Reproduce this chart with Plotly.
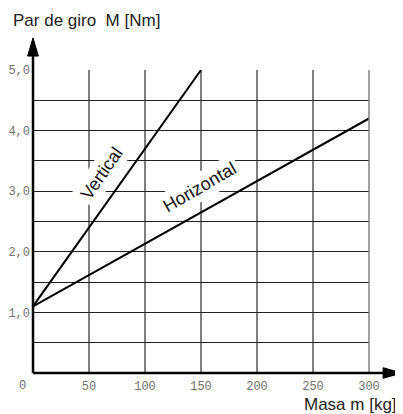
import plotly.graph_objects as go

# Data
mass_vertical = [0, 150]
torque_vertical = [1.1, 5.0]
mass_horizontal = [0, 300]
torque_horizontal = [1.1, 4.2]

x_ticks = [0, 50, 100, 150, 200, 250, 300]
x_ticktext = ["", "50", "100", "150", "200", "250", "300"]
y_ticks = [0, 0.5, 1.0, 1.5, 2.0, 2.5, 3.0, 3.5, 4.0, 4.5, 5.0]
y_ticktext = ["", "", "1,0", "", "2,0", "", "3,0", "", "4,0", "", "5,0"]

fig = go.Figure()

fig.add_trace(go.Scatter(x=mass_vertical, y=torque_vertical, mode="lines",
                         line=dict(color="black", width=2), showlegend=False,
                         cliponaxis=False))
fig.add_trace(go.Scatter(x=mass_horizontal, y=torque_horizontal, mode="lines",
                         line=dict(color="black", width=2), showlegend=False,
                         cliponaxis=False))

mono = dict(family="Liberation Mono, DejaVu Sans Mono, monospace", size=12, color="#707070")
sans = "Liberation Sans, Arial, sans-serif"

fig.update_xaxes(range=[0, 300], tickvals=x_ticks, ticktext=x_ticktext,
                 showgrid=True, gridcolor="#808080", gridwidth=1.5,
                 zeroline=False, showline=False, ticks="", tickfont=mono,
                 ticklabelstandoff=4, automargin=False)
fig.update_yaxes(range=[0, 5], tickvals=y_ticks, ticktext=y_ticktext,
                 showgrid=True, gridcolor="#222", gridwidth=1,
                 zeroline=False, showline=False, ticks="", tickfont=mono,
                 ticklabelstandoff=2, automargin=False)

shapes = [
    dict(type="line", xref="paper", yref="paper", x0=1, x1=1, y0=0, y1=1,
         line=dict(color="#808080", width=1.5)),
    dict(type="line", xref="paper", yref="paper", x0=0, x1=0, y0=0, y1=1.05,
         line=dict(color="black", width=2.5)),
    dict(type="line", xref="paper", yref="paper", x0=0, x1=1.045, y0=0, y1=0,
         line=dict(color="black", width=2.5)),
    dict(type="path", xref="paper", yref="paper",
         path="M -0.016,1.046 L 0,1.106 L 0.016,1.046 Z",
         fillcolor="black", line=dict(color="black", width=1)),
    dict(type="path", xref="paper", yref="paper",
         path="M 1.042,0.0175 L 1.098,0 L 1.042,-0.0175 Z",
         fillcolor="black", line=dict(color="black", width=1)),
]

annotations = [
    dict(text="Par de giro&nbsp; M [Nm]", xref="paper", yref="paper",
         x=-0.065, y=1.162, xanchor="left", yanchor="middle", showarrow=False,
         font=dict(family=sans, size=17, color="#222")),
    dict(text="Masa m [kg]", xref="paper", yref="paper",
         x=1.089, y=-0.103, xanchor="right", yanchor="middle", showarrow=False,
         font=dict(family=sans, size=17, color="#222")),
    dict(text="0", xref="paper", yref="paper",
         x=-0.03, y=-0.043, xanchor="center", yanchor="middle", showarrow=False,
         font=mono),
    dict(text="Vertical", x=61.6, y=3.30, textangle=-55, showarrow=False,
         bgcolor="white", borderpad=3,
         font=dict(family=sans, size=18, color="#111")),
    dict(text="Horizontal", x=149, y=3.07, textangle=-30, showarrow=False,
         bgcolor="white", borderpad=3,
         font=dict(family=sans, size=18, color="#111")),
]

# The page body has an 8px default margin, so the figure is sized and
# offset to place the plot area where the reference has it.
fig.update_layout(width=395, height=406,
                  margin=dict(l=25, r=34, t=62, b=41, autoexpand=False),
                  plot_bgcolor="white", paper_bgcolor="white",
                  shapes=shapes, annotations=annotations)

fig.write_html("out.html")
